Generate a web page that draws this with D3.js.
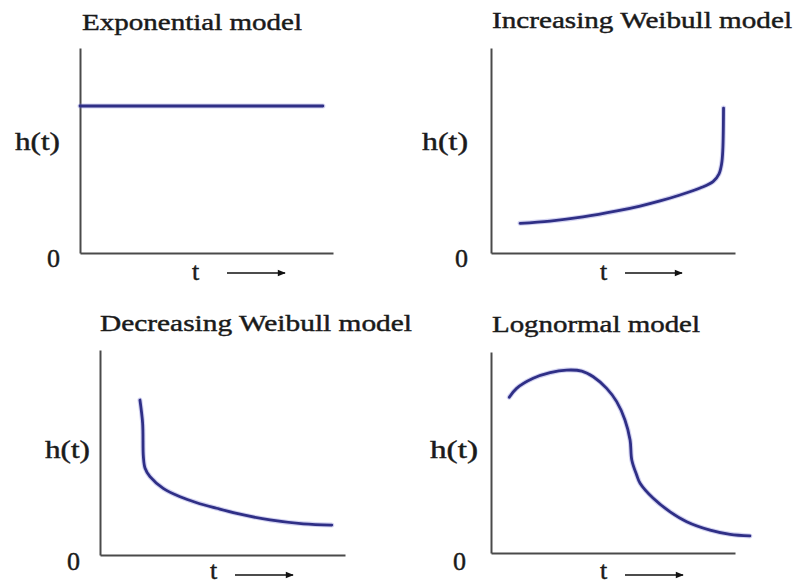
<!DOCTYPE html>
<html>
<head>
<meta charset="utf-8">
<script src="https://cdn.jsdelivr.net/npm/d3@7"></script>
<style>
  html, body { margin: 0; padding: 0; background: #fff; }
  svg { display: block; }
  text { font-family: "Liberation Serif", "Times New Roman", serif; fill: #1a1a1a; stroke: #1a1a1a; stroke-width: 0.45px; }
</style>
</head>
<body>
<svg id="chart" width="795" height="586"></svg>
<script>
// ---- data ----
const titles = ["Exponential model", "Increasing Weibull model", "Decreasing Weibull model", "Lognormal model"];
const yLabel = "h(t)";
const xLabel = "t";
const zeroLabel = "0";

const expT = [0, 9.6];
const expH = [7.17, 7.17];

const incT = [1.19, 2.42, 3.77, 5.16, 6.11, 6.93, 7.75, 8.57, 9.10, 9.34, 9.45, 9.50, 9.53];
const incH = [1.45, 1.56, 1.76, 2.05, 2.29, 2.54, 2.83, 3.17, 3.48, 3.85, 4.34, 5.02, 7.07];

const decT = [1.63, 1.74, 1.77, 1.84, 2.04, 2.58, 3.27, 3.95, 4.76, 5.58, 6.94, 8.30, 9.46];
const decH = [7.56, 6.42, 4.80, 4.23, 3.82, 3.25, 2.84, 2.55, 2.28, 2.03, 1.71, 1.52, 1.46];

const logT = [0.75, 1.05, 1.73, 2.42, 3.10, 3.72, 4.19, 4.74, 5.15, 5.49, 5.70, 5.77, 5.97, 6.11, 6.65, 7.34, 8.02, 8.98, 9.80, 10.61];
const logH = [7.75, 8.19, 8.69, 8.97, 9.10, 9.05, 8.77, 8.19, 7.53, 6.62, 5.62, 4.63, 3.88, 3.47, 2.72, 2.05, 1.56, 1.14, 0.93, 0.85];

const series = [
  {t: expT, h: expH},
  {t: incT, h: incH},
  {t: decT, h: decH},
  {t: logT, h: logH}
];

// ---- layout ----
const panels = [
  {x0: 80,  y0: 253, w: 253, h: 205, title: [82, 30, 220],  hl: [15, 150, 45],  zero: [47, 267], t: [192, 280], arrow: [227, 285, 273]},
  {x0: 491, y0: 253, w: 244, h: 205, title: [492, 28, 300], hl: [422, 150, 46], zero: [455, 267], t: [600, 280], arrow: [625, 682, 273]},
  {x0: 100, y0: 555, w: 245, h: 205, title: [100, 331, 312], hl: [45, 458, 45],  zero: [67, 570],  t: [210, 579], arrow: [235, 293, 575]},
  {x0: 491, y0: 553, w: 244, h: 201, title: [492, 332, 208], hl: [430, 458, 48], zero: [453, 570], t: [600, 579], arrow: [625, 683, 575]}
];

const svg = d3.select("#chart");
const defs = svg.append("defs");
defs.append("marker")
  .attr("id", "arrowhead")
  .attr("viewBox", "0 0 10 10")
  .attr("refX", 9).attr("refY", 5)
  .attr("markerWidth", 9).attr("markerHeight", 8)
  .attr("markerUnits", "userSpaceOnUse")
  .attr("orient", "auto")
  .append("path").attr("d", "M0,1 L10,5 L0,9 Z").attr("fill", "#111");

panels.forEach((p, i) => {
  const g = svg.append("g");
  const x = d3.scaleLinear().domain([0, 10]).range([p.x0, p.x0 + p.w]);
  const y = d3.scaleLinear().domain([0, 10]).range([p.y0, p.y0 - p.h]);

  // axes (no ticks)
  const xAxis = d3.axisBottom(x).tickValues([]).tickSizeOuter(0);
  const yAxis = d3.axisLeft(y).tickValues([]).tickSizeOuter(0);
  g.append("g").attr("transform", `translate(0,${p.y0})`).call(xAxis)
    .select(".domain").attr("stroke", "#4a4a4a").attr("stroke-width", 2);
  g.append("g").attr("transform", `translate(${p.x0},0)`).call(yAxis)
    .select(".domain").attr("stroke", "#4a4a4a").attr("stroke-width", 2);

  // curve
  const s = series[i];
  const pts = s.t.map((tv, k) => [tv, s.h[k]]);
  const line = d3.line().x(d => x(d[0])).y(d => y(d[1])).curve(d3.curveCatmullRom.alpha(0.5));
  g.append("path").attr("d", line(pts))
    .attr("fill", "none")
    .attr("stroke", "#8080d8").attr("stroke-opacity", 0.35)
    .attr("stroke-width", 5).attr("stroke-linecap", "round");
  g.append("path").attr("d", line(pts))
    .attr("fill", "none")
    .attr("stroke", "#2f2f86")
    .attr("stroke-width", 2.8).attr("stroke-linecap", "round").attr("stroke-linejoin", "round");

  // title
  g.append("text").attr("x", p.title[0]).attr("y", p.title[1])
    .attr("font-size", 24).attr("textLength", p.title[2]).attr("lengthAdjust", "spacingAndGlyphs")
    .text(titles[i]);
  // h(t)
  g.append("text").attr("x", p.hl[0]).attr("y", p.hl[1])
    .attr("font-size", 25).attr("textLength", p.hl[2]).attr("lengthAdjust", "spacingAndGlyphs")
    .text(yLabel);
  // 0
  g.append("text").attr("x", p.zero[0]).attr("y", p.zero[1])
    .attr("font-size", 26)
    .text(zeroLabel);
  // t
  g.append("text").attr("x", p.t[0]).attr("y", p.t[1])
    .attr("font-size", 26)
    .text(xLabel);
  // arrow
  g.append("line")
    .attr("x1", p.arrow[0]).attr("x2", p.arrow[1])
    .attr("y1", p.arrow[2]).attr("y2", p.arrow[2])
    .attr("stroke", "#111").attr("stroke-width", 1.6)
    .attr("marker-end", "url(#arrowhead)");
});
</script>
</body>
</html>
